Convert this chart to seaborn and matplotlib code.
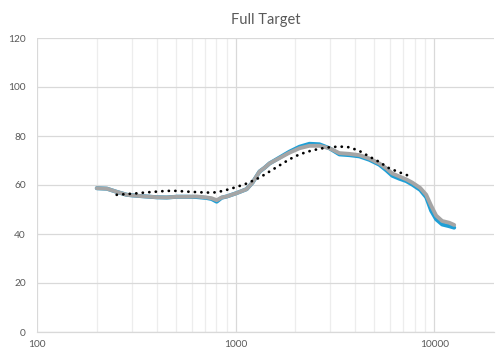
import numpy as np
import pandas as pd
import matplotlib
matplotlib.use("Agg")
import matplotlib.pyplot as plt
import seaborn as sns
from matplotlib.ticker import FixedLocator, NullFormatter, FixedFormatter

# ---- data ----
freq = [200, 225, 252, 283, 318, 357, 401, 450, 505, 567, 637, 715, 757, 803, 850, 901,
        1012, 1136, 1217, 1320, 1398, 1482, 1664, 1868, 2097, 2354, 2643, 2968, 3332,
        3741, 4200, 4715, 5293, 5740, 6150, 6670, 7232, 7750, 8503, 9117, 9658, 10233,
        10970, 11896, 12603]
gray_vals = [58.7, 58.5, 57.2, 56.0, 55.6, 55.3, 55.0, 54.9, 55.2, 55.2, 55.3, 54.9, 54.6, 53.8,
             54.9, 55.3, 56.7, 58.3, 61.0, 65.5, 67.0, 68.8, 71.0, 73.2, 75.0, 76.0, 76.0,
             75.0, 73.0, 72.7, 72.2, 70.8, 68.8, 66.8, 64.7, 63.5, 62.3, 61.0, 58.8, 56.0,
             51.5, 47.5, 45.3, 44.6, 43.7]
blue_vals = [58.7, 58.5, 57.2, 56.0, 55.6, 55.3, 55.0, 54.9, 55.2, 55.2, 55.1, 54.7, 54.3, 53.2,
             54.8, 55.3, 56.7, 58.3, 61.0, 65.5, 67.0, 68.8, 71.2, 73.6, 75.6, 76.8, 76.6,
             75.0, 72.5, 72.2, 71.7, 70.3, 68.3, 66.0, 63.8, 62.6, 61.6, 60.2, 58.0, 55.0,
             49.5, 46.0, 43.9, 43.2, 42.6]

dot_freq = [252, 283, 318, 357, 401, 450, 505, 567, 637, 715, 803, 901, 1012, 1136, 1217,
            1320, 1482, 1664, 1868, 2097, 2354, 2643, 2968, 3332, 3741, 4200, 4715, 5293,
            5940, 6670, 7480]
dot_vals = [56.0, 56.3, 56.6, 57.0, 57.3, 57.6, 57.6, 57.3, 57.1, 56.9, 57.0, 58.0, 59.2, 60.6,
            61.7, 63.0, 65.5, 68.0, 70.5, 72.5, 73.8, 74.8, 75.4, 75.7, 75.4, 73.9, 71.6,
            69.4, 66.8, 65.2, 63.7]

title = "Full Target"
x_ticks = [100, 1000, 10000]
y_ticks = [0, 20, 40, 60, 80, 100, 120]

# ---- styling ----
sns.set_style("white")
plt.rcParams['font.family'] = ['Lato', 'DejaVu Sans']

fig = plt.figure(figsize=(5.02, 3.64), dpi=100)
ax = fig.add_axes([37/502, 1 - 332/364, (494 - 37)/502, (332 - 38)/364])

txt = "#595959"
blue = "#1E9FD6"
gray = "#A5A5A5"

df_blue = pd.DataFrame({"freq": freq, "val": blue_vals})
df_gray = pd.DataFrame({"freq": freq, "val": gray_vals})
df_dot = pd.DataFrame({"freq": dot_freq, "val": dot_vals})

sns.lineplot(data=df_blue, x="freq", y="val", ax=ax, color=blue, linewidth=2.9,
             solid_capstyle="round", solid_joinstyle="round", zorder=3, sort=False)
sns.lineplot(data=df_gray, x="freq", y="val", ax=ax, color=gray, linewidth=2.8,
             solid_capstyle="round", solid_joinstyle="round", zorder=4, sort=False)
sns.lineplot(data=df_dot, x="freq", y="val", ax=ax, color="black", linewidth=2.0,
             linestyle=(0, (0.05, 2.3)), dash_capstyle="round", zorder=5, sort=False)

ax.set_xscale("log")
ax.set_xlim(100, 20000)
ax.set_ylim(0, 120)

ax.xaxis.set_major_locator(FixedLocator(x_ticks))
ax.xaxis.set_major_formatter(FixedFormatter([str(t) for t in x_ticks]))
minor = [m * d for d in (100, 1000) for m in range(2, 10)]
ax.xaxis.set_minor_locator(FixedLocator(minor))
ax.xaxis.set_minor_formatter(NullFormatter())
ax.yaxis.set_major_locator(FixedLocator(y_ticks))
ax.set_yticklabels([str(t) for t in y_ticks])

ax.grid(True, which="major", axis="both", color="#D9D9D9", linewidth=0.9, zorder=0)
ax.grid(True, which="minor", axis="x", color="#EDEDED", linewidth=0.9, zorder=0)
ax.set_axisbelow(True)

for s in ("top", "right", "left"):
    ax.spines[s].set_visible(False)
ax.spines["bottom"].set_color("#D9D9D9")
ax.spines["bottom"].set_linewidth(0.9)

ax.tick_params(axis="both", which="both", length=0, labelsize=7.3, labelcolor=txt)
ax.tick_params(axis="x", pad=6)
ax.tick_params(axis="y", pad=8)
ax.set_xlabel("")
ax.set_ylabel("")
ax.set_title(title, fontsize=10.5, color=txt, pad=10)

fig.savefig("out.png", dpi=100, facecolor="white")
